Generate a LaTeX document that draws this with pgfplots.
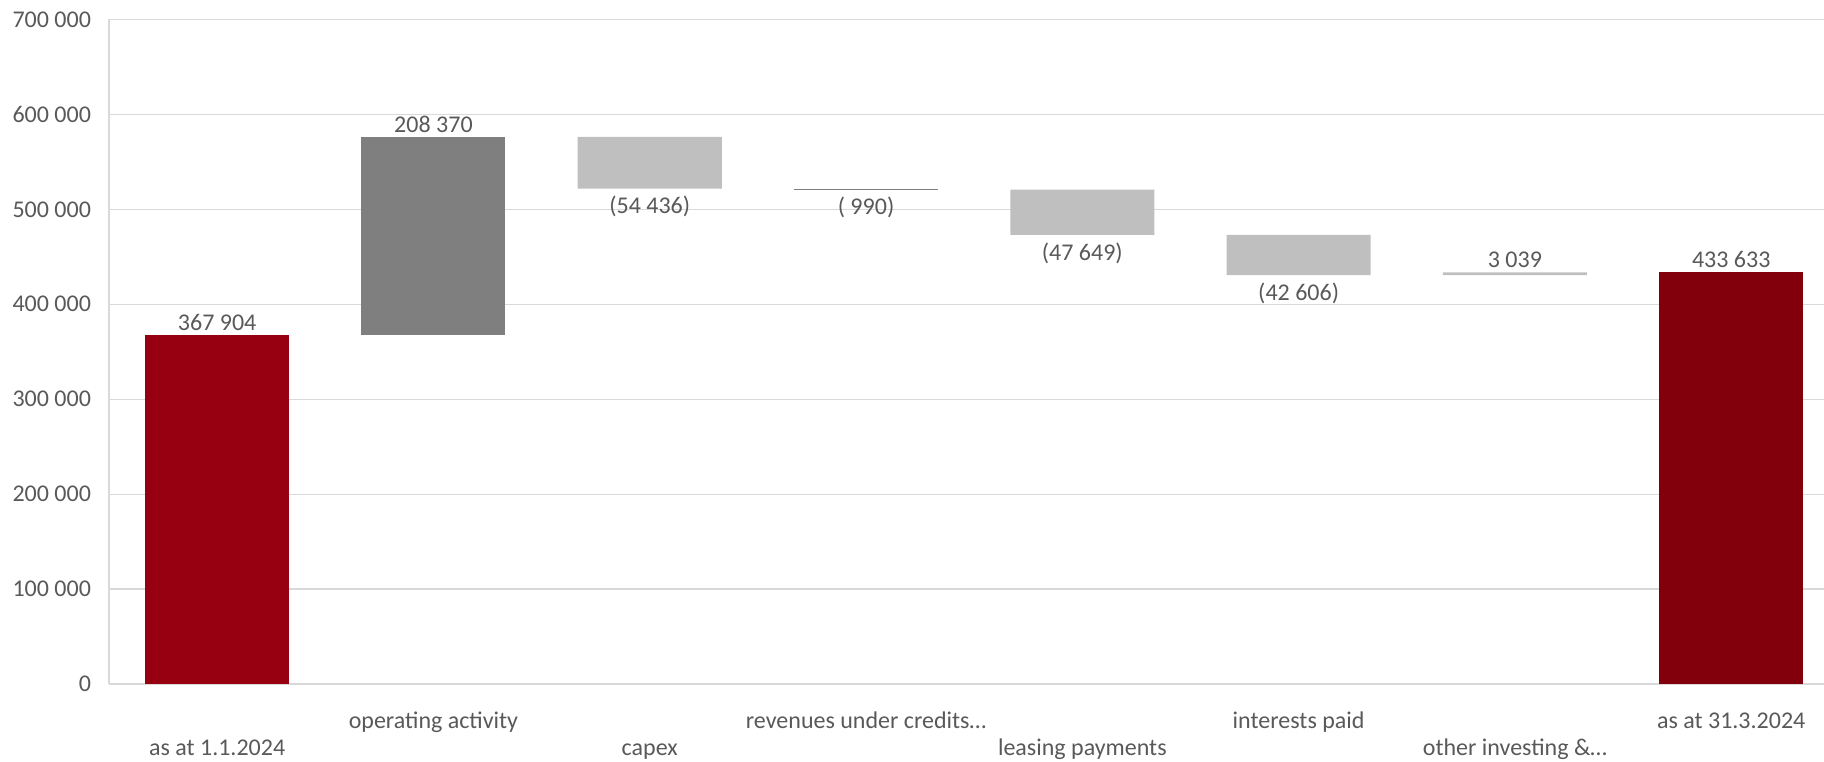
\documentclass[border=0pt]{standalone}
\usepackage{pgfplots}
\pgfplotsset{compat=1.18}
\usepackage{fontspec}
\setmainfont{Carlito}

\definecolor{txt}{HTML}{595959}
\definecolor{gridgray}{HTML}{D9D9D9}
\definecolor{redA}{HTML}{960010}
\definecolor{redB}{HTML}{82000C}
\definecolor{dgray}{HTML}{7F7F7F}
\definecolor{lgray}{HTML}{BFBFBF}

\begin{document}
\begin{tikzpicture}
\useasboundingbox (0,0) rectangle (912pt,380.5pt);
\pgfplotsset{
  wf/.style={
    at={(54.5pt,38.5pt)}, anchor=south west, scale only axis,
    width=857.5pt, height=332.25pt,
    xmin=-0.5, xmax=7.429, ymin=0, ymax=700000,
    scaled y ticks=false, scaled x ticks=false,
    tick label style={text=txt, font=\fontsize{12}{14}\selectfont},
    major tick length=0pt,
  }
}
% bars
\begin{axis}[wf, ybar stacked, bar width=0.666,
  axis lines*=left,
  axis line style={gridgray, line width=0.6pt},
  ymajorgrids, grid style={gridgray, line width=0.6pt},
  ytick={0,100000,200000,300000,400000,500000,600000,700000},
  yticklabels={0,100 000,200 000,300 000,400 000,500 000,600 000,700 000},
  yticklabel style={anchor=east, xshift=-5.5pt},
  xtick={1,3,5,7},
  xticklabels={operating activity,revenues under credits…,interests paid,as at 31.3.2024},
  xticklabel style={anchor=base, yshift=-22pt},
]
% invisible base of each floating bar
\addplot[draw=none, fill=none] coordinates {(0,0) (1,367904) (2,521838) (3,520848) (4,473199) (5,430593) (6,430593) (7,0)};
\addplot[draw=none, fill=redA] coordinates {(0,367904) (1,0) (2,0) (3,0) (4,0) (5,0) (6,0) (7,0)};
\addplot[draw=none, fill=dgray] coordinates {(0,0) (1,208370) (2,0) (3,0) (4,0) (5,0) (6,0) (7,0)};
\addplot[draw=none, fill=lgray] coordinates {(0,0) (1,0) (2,54436) (3,0) (4,47649) (5,42606) (6,3039) (7,0)};
\addplot[draw=none, fill=dgray] coordinates {(0,0) (1,0) (2,0) (3,990) (4,0) (5,0) (6,0) (7,0)};
\addplot[draw=none, fill=redB] coordinates {(0,0) (1,0) (2,0) (3,0) (4,0) (5,0) (6,0) (7,433633)};
\end{axis}
% data labels and lower row of category names
\begin{axis}[wf,
  axis line style={draw=none},
  ytick=\empty,
  xtick={0,2,4,6},
  xticklabels={as at 1.1.2024,capex,leasing payments,other investing \&…},
  xticklabel style={anchor=base, yshift=-35.5pt},
  point meta=explicit symbolic,
]
\addplot[draw=none, mark=none, nodes near coords,
  every node near coord/.append style={anchor=base, yshift=2.2pt, text=txt, font=\fontsize{12}{14}\selectfont}]
  coordinates {(0,367904) [367 904] (1,576274) [208 370] (6,433632) [3 039] (7,433633) [433 633]};
\addplot[draw=none, mark=none, nodes near coords,
  every node near coord/.append style={anchor=base, yshift=-12.6pt, text=txt, font=\fontsize{12}{14}\selectfont}]
  coordinates {(2,521838) [(54 436)] (3,520848) [( 990)] (4,473199) [(47 649)] (5,430593) [(42 606)]};
\end{axis}
\end{tikzpicture}
\end{document}
